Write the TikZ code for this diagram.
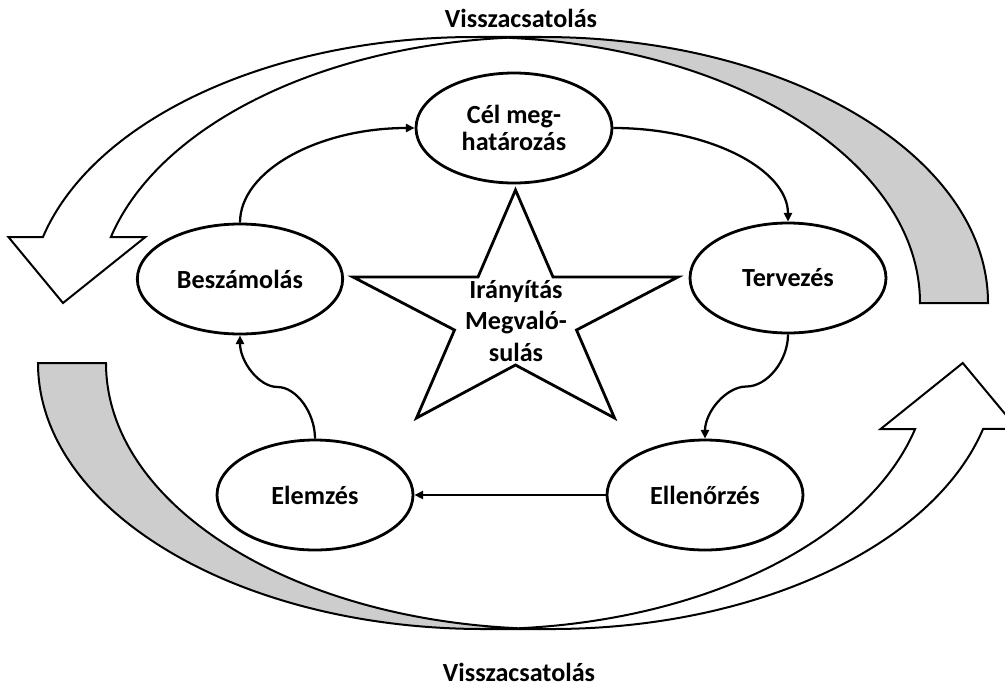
\documentclass[tikz,border=0pt]{standalone}
\usepackage{fontspec}
\setmainfont{Carlito}
\usetikzlibrary{shapes.geometric,arrows.meta,calc}
\definecolor{bandshade}{RGB}{205,205,205}
\begin{document}
\begin{tikzpicture}[x=0.75pt,y=-0.75pt,
  stage/.style={ellipse,draw,line width=2.1pt,fill=white,minimum width=147pt,
    minimum height=82.5pt,inner sep=0pt,align=center,
    font=\bfseries\fontsize{19.6}{20.25}\selectfont},
  link/.style={line width=1.7pt,-{Triangle[length=6.5pt,width=6pt]}},
  band/.style={draw,line width=1.5pt,line join=miter},
  fbtext/.style={font=\bfseries\fontsize{19.6}{22}\selectfont,anchor=base},
  ell/.style={x radius=445.5,y radius=266}
]
\useasboundingbox (0,0) rectangle (1005,686);
\clip (0,0) rectangle (1005,686);

% upper curved arrow: front band with head on the left
\path[band,fill=white] (63,303) -- (145.4,237) -- (110.9,237)
  arc[ell,start angle=-165.65,end angle=-90] -- (474.5,37)
  arc[ell,start angle=-90,end angle=-165.65] -- (8.4,237) -- cycle;
% upper curved arrow: shaded back band on the right
\path[band,fill=bandshade] (920,303) -- (988,303)
  arc[ell,start angle=0,end angle=-90] -- (508.5,37.8)
  arc[ell,start angle=-85.62,end angle=0] -- cycle;

% lower curved arrow: front band with head on the right
\path[band,fill=white] (962.75,363) -- (880.6,429) -- (915.1,429)
  arc[ell,start angle=14.35,end angle=90] -- (551.5,629)
  arc[ell,start angle=90,end angle=14.35] -- (1017.6,429) -- cycle;
% lower curved arrow: shaded back band on the left
\path[band,fill=bandshade] (38,363) -- (106,363)
  arc[ell,start angle=180,end angle=94.38] -- (483.5,629)
  arc[ell,start angle=90,end angle=180] -- cycle;

\node[fbtext] (fbtop) at (521,27) {Visszacsatolás};
\node[fbtext] (fbbot) at (519,681) {Visszacsatolás};

% central star
\draw[line width=2.1pt,fill=white,line join=miter]
  (515.5,190) -- (553,277) -- (678,277) -- (576.5,330) -- (614.5,418)
  -- (515.5,365) -- (416.5,418) -- (454.5,330) -- (353,277) -- (478,277) -- cycle;
\node[align=center,font=\bfseries\fontsize{19.6}{23.6}\selectfont] (ctrl)
  at (516,321) {Irányítás\\Megvaló-\\sulás};

% process stages
\node[stage] (cel) at (514,128) {Cél meg-\\határozás};
\node[stage] (terv) at (788,278) {Tervezés};
\node[stage,minimum width=154pt] (besz) at (240,279) {Beszámolás};
\node[stage] (elem) at (315,495) {Elemzés};
\node[stage] (ellen) at (705,495) {Ellenőrzés};

% cycle connectors
\draw[link] (besz.north) .. controls +(0,-52) and +(-96,0) .. (cel.west);
\draw[link] (cel.east) .. controls +(96,0) and +(0,-52) .. (terv.north);
\coordinate (m1) at ($(terv.south)!0.5!(ellen.north)$);
\draw[link] (terv.south) .. controls +(0,26.5) and +(20.5,0) .. (m1)
  .. controls +(-20.5,0) and +(0,-26.5) .. (ellen.north);
\draw[link] (ellen.west) -- (elem.east);
\coordinate (m2) at ($(elem.north)!0.5!(besz.south)$);
\draw[link] (elem.north) .. controls +(0,-26) and +(18.75,0) .. (m2)
  .. controls +(-18.75,0) and +(0,26) .. (besz.south);
\end{tikzpicture}
\end{document}
